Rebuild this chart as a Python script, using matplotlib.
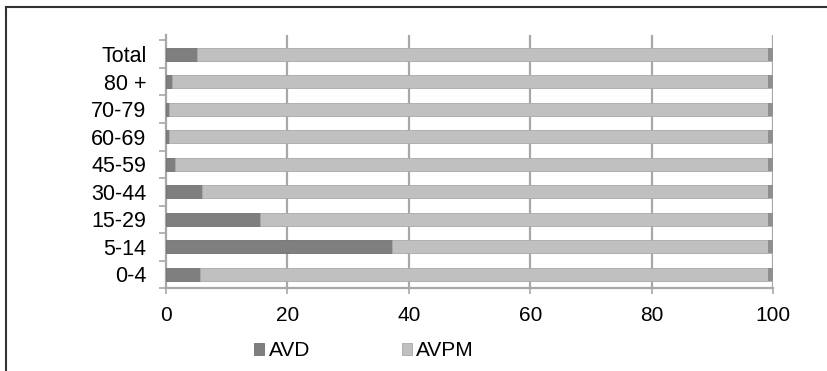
import numpy as np
import matplotlib
matplotlib.use('Agg')
import matplotlib.pyplot as plt
from matplotlib.lines import Line2D

plt.rcParams['font.family'] = ['Liberation Sans', 'DejaVu Sans']

# Dades (percentatges, llegits del gràfic)
groups = ['0-4', '5-14', '15-29', '30-44', '45-59', '60-69', '70-79', '80 +', 'Total']
avd = [5.6, 37.3, 15.5, 5.9, 1.5, 0.5, 0.5, 1.0, 5.1]
avpm = [100 - v for v in avd]
xticks = [0, 20, 40, 60, 80, 100]

c_avd = '#7f7f7f'
c_avpm = '#c0c0c0'
c_grid = '#a8a8a8'

fig = plt.figure(figsize=(8.28, 3.71), dpi=100)
W, H = 828, 371
ax = fig.add_axes([166 / W, 1 - 288 / H, (773 - 166) / W, (288 - 35) / H])

y = np.arange(len(groups))
ax.barh(y, avd, height=0.48, color=c_avd, edgecolor='#707070', linewidth=0.6, zorder=3, label='AVD')
ax.barh(y, avpm, left=avd, height=0.48, color=c_avpm, edgecolor='#a9a9a9', linewidth=0.6,
        zorder=3, label='AVPM')
# cara lateral fosca al final de cada barra
tot = np.array(avd) + np.array(avpm)
ax.barh(y, 0.9, left=tot - 0.9, height=0.48, color='#8f8f8f', linewidth=0, zorder=4)

ax.set_xlim(0, 100)
ax.set_ylim(-0.5, 8.7)

ax.set_xticks(xticks)
ax.set_xticklabels([str(t) for t in xticks], fontsize=15)
ax.tick_params(axis='x', length=4, width=1.2, color=c_grid, pad=9)

# etiquetes al centre, marques a les fronteres
ax.set_yticks(np.arange(-0.5, len(groups), 1.0))
ax.set_yticklabels([])
ax.set_yticks(y, minor=True)
ax.set_yticklabels(groups, minor=True, fontsize=15.5)
ax.tick_params(axis='y', which='major', length=5, width=1.2, color=c_grid)
ax.tick_params(axis='y', which='minor', length=0, pad=14)

for t in xticks[1:]:
    ax.axvline(t, color=c_grid, lw=1.6, zorder=1)

for s in ['top', 'right']:
    ax.spines[s].set_visible(False)
for s in ['left', 'bottom']:
    ax.spines[s].set_color(c_grid)
    ax.spines[s].set_linewidth(1.6)

handles, labels = ax.get_legend_handles_labels()
fig.legend(handles[:2], labels[:2], loc='center', bbox_to_anchor=(364 / W, 1 - 351 / H),
           ncol=2, frameon=False, fontsize=15, handlelength=0.5, handleheight=0.5,
           handletextpad=0.2, columnspacing=4.4)

# marc de la figura (retallat a dreta i a baix)
fig.add_artist(Line2D([6 / W, 6 / W], [0, 1 - 7 / H], color='#333333', lw=1.5))
fig.add_artist(Line2D([6 / W, 1], [1 - 7 / H, 1 - 7 / H], color='#333333', lw=1.5))

fig.savefig('out.png', dpi=100)
